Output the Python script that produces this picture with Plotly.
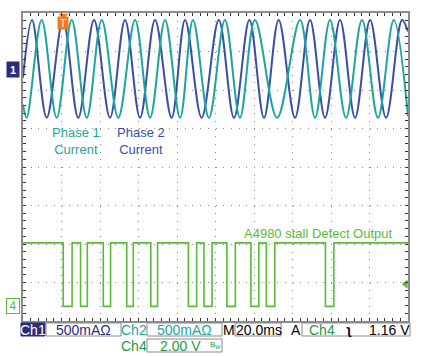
import plotly.graph_objects as go

# ---------------- data ----------------
# time axis: 20 ms/div, 10 divisions on screen
# Ch1 = Phase 1 current (A), extremes of the waveform
ch1_t = [0, 1.9, 9.7, 17.5, 25.3, 33.1, 40.9, 49.5, 58.2, 66.0, 73.8, 81.6, 88.3,
         96.6, 104.9, 112.7, 120.5, 132.0, 143.9, 151.7, 159.5, 167.8, 176.1,
         184.4, 192.6, 200]
ch1_a = [-0.45, -0.62, 0.65, -0.62, 0.65, -0.62, 0.65, -0.62, 0.65, -0.62, 0.65,
         -0.62, 0.65, -0.62, 0.65, -0.62, 0.65, -0.62, 0.65, -0.62, 0.65, -0.62,
         0.65, -0.62, 0.65, -0.60]
# Ch2 = Phase 2 current (A)
ch2_t = [0, 4.7, 12.3, 20.8, 28.7, 36.9, 45.2, 53.0, 60.8, 68.6, 77.2, 84.2, 92.8,
         101.7, 109.6, 117.6, 125.2, 132.8, 141.3, 149.1, 156.9, 164.7, 172.5,
         180.3, 188.6, 196.9, 200]
ch2_a = [-0.10, 0.65, -0.62, 0.65, -0.62, 0.65, -0.62, 0.65, -0.62, 0.65, -0.62,
         0.65, -0.62, 0.65, -0.62, 0.65, -0.62, 0.65, -0.62, 0.65, -0.62, 0.65,
         -0.62, 0.65, -0.62, 0.65, 0.50]
# Ch4 = stall detect output (V): low pulses (fall time, rise time) in ms
ch4_fall = [20.9, 29.9, 41.7, 53.9, 66.4, 85.9, 94.0, 105.9, 118.4, 126.4, 157.1]
ch4_rise = [25.5, 33.4, 45.5, 57.3, 69.9, 90.2, 98.2, 110.3, 122.5, 130.8, 161.5]
ch4_high = 3.3
ch4_low = 0.0

# scope settings
ch1_scale = 0.5      # A/div
ch2_scale = 0.5      # A/div
ch4_scale = 2.0      # V/div
ch1_offset = 2.52    # div
ch2_offset = 2.52    # div
ch4_offset = -3.62   # div
trig_time = 21.0     # ms
trig_level = 1.16    # V
bar_row1 = ["Ch1", "500mAΩ", "Ch2", "500mAΩ", "M", "20.0ms", "A", "Ch4", "1.16 V"]
bar_row2 = ["Ch4", "2.00 V"]

# ---------------- colours ----------------
TEAL = "#1ea59c"
BLUE = "#3a4ea6"
GREEN = "#5cbb36"
DGREEN = "#1a9a4a"
NAVY = "#2b2d7c"
ORANGE = "#f07a1e"
FONT = "Liberation Sans"

# ---------------- build traces ----------------
y1 = [ch1_offset + a / ch1_scale for a in ch1_a]
y2 = [ch2_offset + a / ch2_scale for a in ch2_a]

d_t = [0]
d_v = [ch4_high]
for f, r in zip(ch4_fall, ch4_rise):
    d_t += [f, r]
    d_v += [ch4_low, ch4_high]
d_t.append(200)
d_v.append(ch4_high)
y4 = [ch4_offset + v / ch4_scale for v in d_v]

fig = go.Figure()
fig.add_trace(go.Scatter(x=ch2_t, y=y2, mode="lines",
                         line=dict(color=BLUE, width=2, shape="spline", smoothing=1.0),
                         hoverinfo="skip"))
fig.add_trace(go.Scatter(x=ch1_t, y=y1, mode="lines",
                         line=dict(color=TEAL, width=2, shape="spline", smoothing=1.0),
                         hoverinfo="skip"))
fig.add_trace(go.Scatter(x=d_t, y=y4, mode="lines",
                         line=dict(color=GREEN, width=1.6, shape="hv"),
                         hoverinfo="skip"))

# trigger level arrow on the right edge
fig.add_trace(go.Scatter(x=[198.8], y=[ch4_offset + trig_level / ch4_scale], mode="markers",
                         marker=dict(symbol="triangle-left", size=8, color=GREEN),
                         cliponaxis=False, hoverinfo="skip"))
# trigger-time marker at top
fig.add_trace(go.Scatter(x=[trig_time], y=[3.93], mode="markers",
                         marker=dict(symbol="triangle-down", size=8, color=ORANGE),
                         cliponaxis=False, hoverinfo="skip"))
# ground marker arrow tips
fig.add_trace(go.Scatter(x=[-1.6], y=[ch1_offset], mode="markers",
                         marker=dict(symbol="triangle-right", size=9, color=NAVY),
                         cliponaxis=False, hoverinfo="skip"))
fig.add_trace(go.Scatter(x=[-1.4], y=[ch4_offset], mode="markers",
                         marker=dict(symbol="triangle-right-open", size=8, color=GREEN),
                         cliponaxis=False, hoverinfo="skip"))

W, H = 424, 356
L, R, T, B = 23, 408, 13, 321


def px(x):
    return (x - L) / (R - L)


def py(y):
    return (B - y) / (B - T)


ann = []
shapes = []


def label(text, x, y, color, size=13, **kw):
    d = dict(text=text, x=px(x), y=py(y), xref="paper", yref="paper",
             xanchor="center", yanchor="middle",
             showarrow=False, font=dict(family=FONT, size=size, color=color))
    d.update(kw)
    ann.append(d)


def rect(x0, y0, x1, y1, fill="white", line="#8a8a8a"):
    shapes.append(dict(type="rect", xref="paper", yref="paper",
                       x0=px(x0), x1=px(x1), y0=py(y1), y1=py(y0),
                       fillcolor=fill, line=dict(color=line, width=1), layer="above"))


label("Phase 1<br>Current", 76, 141, TEAL)
label("Phase 2<br>Current", 141, 141, BLUE)
label("A4980 stall Defect Output", 318, 233, GREEN)

# channel ground markers
ann.append(dict(text="<b>1</b>", x=px(13), y=ch1_offset, xref="paper", yref="y",
                xanchor="center", yanchor="middle",
                showarrow=False, bgcolor=NAVY, font=dict(family=FONT, size=11, color="white"),
                width=10, height=13))
ann.append(dict(text="4", x=px(13), y=ch4_offset, xref="paper", yref="y",
                xanchor="center", yanchor="middle",
                showarrow=False, bgcolor="white", bordercolor=GREEN, borderwidth=1,
                font=dict(family=FONT, size=12, color=GREEN), width=10, height=12))
ann.append(dict(text="T", x=trig_time, y=py(23), xref="x", yref="paper",
                xanchor="center", yanchor="middle",
                showarrow=False, bgcolor=ORANGE, font=dict(family=FONT, size=10, color="white"),
                width=8, height=10))

# status bar boxes
rect(21, 323, 45, 336, fill=NAVY, line=NAVY)
rect(46, 323, 121, 336)
rect(147, 323, 222, 336)
rect(235, 323, 281, 336)
rect(302, 323, 410, 336)
rect(147, 339, 222, 352)

# status bar texts
r1, r2 = 329.5, 345.5
label(bar_row1[0], 33, r1, "white", 14)
label(bar_row1[1], 83.5, r1, NAVY, 14)
label(bar_row1[2], 134, r1, TEAL, 14)
label(bar_row1[3], 184.5, r1, TEAL, 14)
label(bar_row1[4], 229, r1, "black", 14)
label(bar_row1[5], 258.5, r1, "black", 14)
label(bar_row1[6], 296, r1, "black", 14)
label(bar_row1[7], 322, r1, DGREEN, 14)
label("<b>\u0285</b>", 349, r1, "black", 13)
label(bar_row1[8], 389, r1, "black", 14)
label(bar_row2[0], 134, r2, DGREEN, 14)
label(bar_row2[1], 180, r2, DGREEN, 14)
label("B<sub>W</sub>", 216, r2 - 1, DGREEN, 8)

fig.update_layout(
    width=W, height=H,
    margin=dict(l=L, r=W - R, t=T, b=H - B, autoexpand=False),
    paper_bgcolor="white", plot_bgcolor="white",
    showlegend=False,
    annotations=ann,
    shapes=shapes,
    xaxis=dict(range=[0, 200], dtick=20, showgrid=True, gridcolor="#888",
               griddash="1px,6.7px", gridwidth=1, zeroline=False,
               showline=True, linecolor="#8c8c8c", linewidth=2, mirror="ticks",
               ticks="inside", ticklen=3, tickcolor="#333", showticklabels=False,
               minor=dict(dtick=4, ticks="inside", ticklen=3, tickcolor="#333", showgrid=False),
               fixedrange=True),
    yaxis=dict(range=[-4, 4], dtick=1, showgrid=True, gridcolor="#888",
               griddash="1px,6.7px", gridwidth=1, zeroline=False,
               showline=True, linecolor="#8c8c8c", linewidth=2, mirror="ticks",
               ticks="inside", ticklen=3, tickcolor="#333", showticklabels=False,
               minor=dict(dtick=0.2, ticks="inside", ticklen=3, tickcolor="#333", showgrid=False),
               fixedrange=True),
    xaxis2=dict(overlaying="x", anchor="free", position=0.5, range=[0, 200], dtick=4,
                ticks="outside", ticklen=2, tickcolor="#333", showgrid=False,
                showline=False, showticklabels=False, zeroline=False),
    xaxis3=dict(overlaying="x", anchor="free", position=0.5, range=[0, 200], dtick=4,
                ticks="inside", ticklen=2, tickcolor="#333", showgrid=False,
                showline=False, showticklabels=False, zeroline=False),
    yaxis2=dict(overlaying="y", anchor="free", position=0.5, range=[-4, 4], dtick=0.2,
                ticks="outside", ticklen=2, tickcolor="#333", showgrid=False,
                showline=False, showticklabels=False, zeroline=False),
    yaxis3=dict(overlaying="y", anchor="free", position=0.5, range=[-4, 4], dtick=0.2,
                ticks="inside", ticklen=2, tickcolor="#333", showgrid=False,
                showline=False, showticklabels=False, zeroline=False),
)

fig.write_html("out.html", config=dict(displayModeBar=False),
               post_script="document.body.style.margin='0';")
